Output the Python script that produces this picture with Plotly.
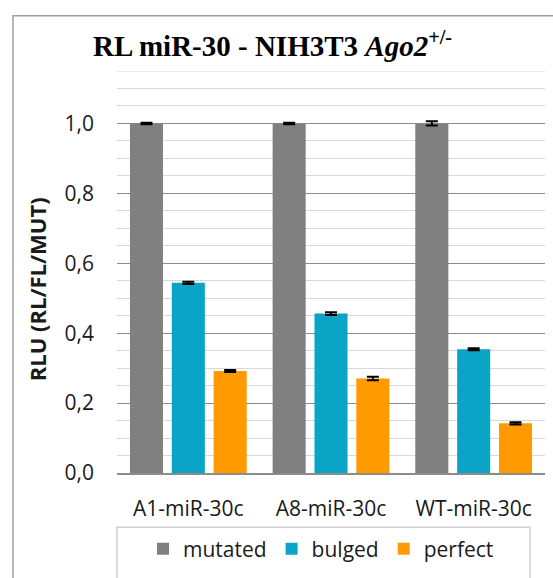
import plotly.graph_objects as go

categories = ["A1-miR-30c", "A8-miR-30c", "WT-miR-30c"]
series_names = ["mutated", "bulged", "perfect"]
mutated = [1.0, 1.0, 1.0]
mutated_err = [0.002, 0.002, 0.006]
bulged = [0.544, 0.456, 0.354]
bulged_err = [0.003, 0.004, 0.003]
perfect = [0.292, 0.270, 0.142]
perfect_err = [0.003, 0.005, 0.003]
colors = ["#808080", "#0aa5c6", "#ff9b00"]

W, H = 553, 578
L, R, T, B = 117, 8, 71, 100
pw, ph = W - L - R, H - T - B

def px(x):
    return (x - L) / pw

def py(y):
    return (H - B - y) / ph

fig = go.Figure()
for name, vals, errs, col in zip(series_names, [mutated, bulged, perfect],
                                 [mutated_err, bulged_err, perfect_err], colors):
    fig.add_trace(go.Bar(
        x=categories, y=vals, name=name, marker=dict(color=col, line=dict(width=0)),
        error_y=dict(type="data", array=errs, visible=True, color="black",
                     thickness=2, width=6),
    ))

font_main = "Open Sans, Liberation Sans, sans-serif"
fs = 21
fig.update_layout(
    width=W, height=H,
    margin=dict(l=L, r=R, t=T, b=B),
    paper_bgcolor="white", plot_bgcolor="white",
    barmode="group", bargap=0.12, bargroupgap=0.21,
    separators=",.",
    font=dict(family=font_main, size=fs, color="#1a1a1a"),
    showlegend=True,
    legend=dict(orientation="h", x=px(143), y=py(555), xanchor="left", yanchor="middle",
                bgcolor="rgba(0,0,0,0)", borderwidth=0,
                font=dict(family=font_main, size=fs, color="#1a1a1a"),
                itemclick=False, itemdoubleclick=False, tracegroupgap=0),
    xaxis=dict(showline=True, linecolor="#8c8c8c", linewidth=1.5, ticks="",
               ticklabelstandoff=16, showgrid=False,
               tickfont=dict(family=font_main, size=fs, color="#1a1a1a")),
    yaxis=dict(range=[0, 1.15], dtick=0.2, tick0=0, tickformat=".1f",
               showgrid=True, gridcolor="#8c8c8c", gridwidth=1,
               zeroline=False, showline=False, ticks="", ticklabelstandoff=22,
               tickvals=[0, 0.2, 0.4, 0.6, 0.8, 1.0],
               minor=dict(dtick=0.05, tick0=0, showgrid=True, gridcolor="#d9d9d9", gridwidth=1),
               tickfont=dict(family=font_main, size=fs, color="#1a1a1a")),
    annotations=[
        dict(text="<b>RL miR-30 - NIH3T3 <i>Ago2</i><sup>+/-</sup></b>", xref="paper", yref="paper",
             x=px(272), y=py(44), xanchor="center", yanchor="middle", showarrow=False,
             font=dict(family="Liberation Serif, DejaVu Serif, serif", size=29, color="black")),
        dict(text="<b>RLU (RL/FL/MUT)</b>", xref="paper", yref="paper",
             x=px(37), y=py(292), xanchor="center", yanchor="middle", showarrow=False,
             textangle=-90, font=dict(family=font_main, size=22, color="#1a1a1a")),
    ],
    shapes=[
        dict(type="rect", xref="paper", yref="paper", x0=px(13), x1=px(600), y0=py(620), y1=py(15),
             line=dict(color="#a0a0a0", width=1.5), fillcolor="rgba(0,0,0,0)", layer="below"),
        dict(type="rect", xref="paper", yref="paper", x0=px(117), x1=px(530), y0=py(600), y1=py(533),
             line=dict(color="#d0d0d0", width=1.5), fillcolor="rgba(0,0,0,0)", layer="below"),
        dict(type="line", xref="paper", yref="y", x0=0, x1=1, y0=1.15, y1=1.15,
             line=dict(color="#d9d9d9", width=1), layer="below"),
    ],
)

fig.write_html("out.html")
